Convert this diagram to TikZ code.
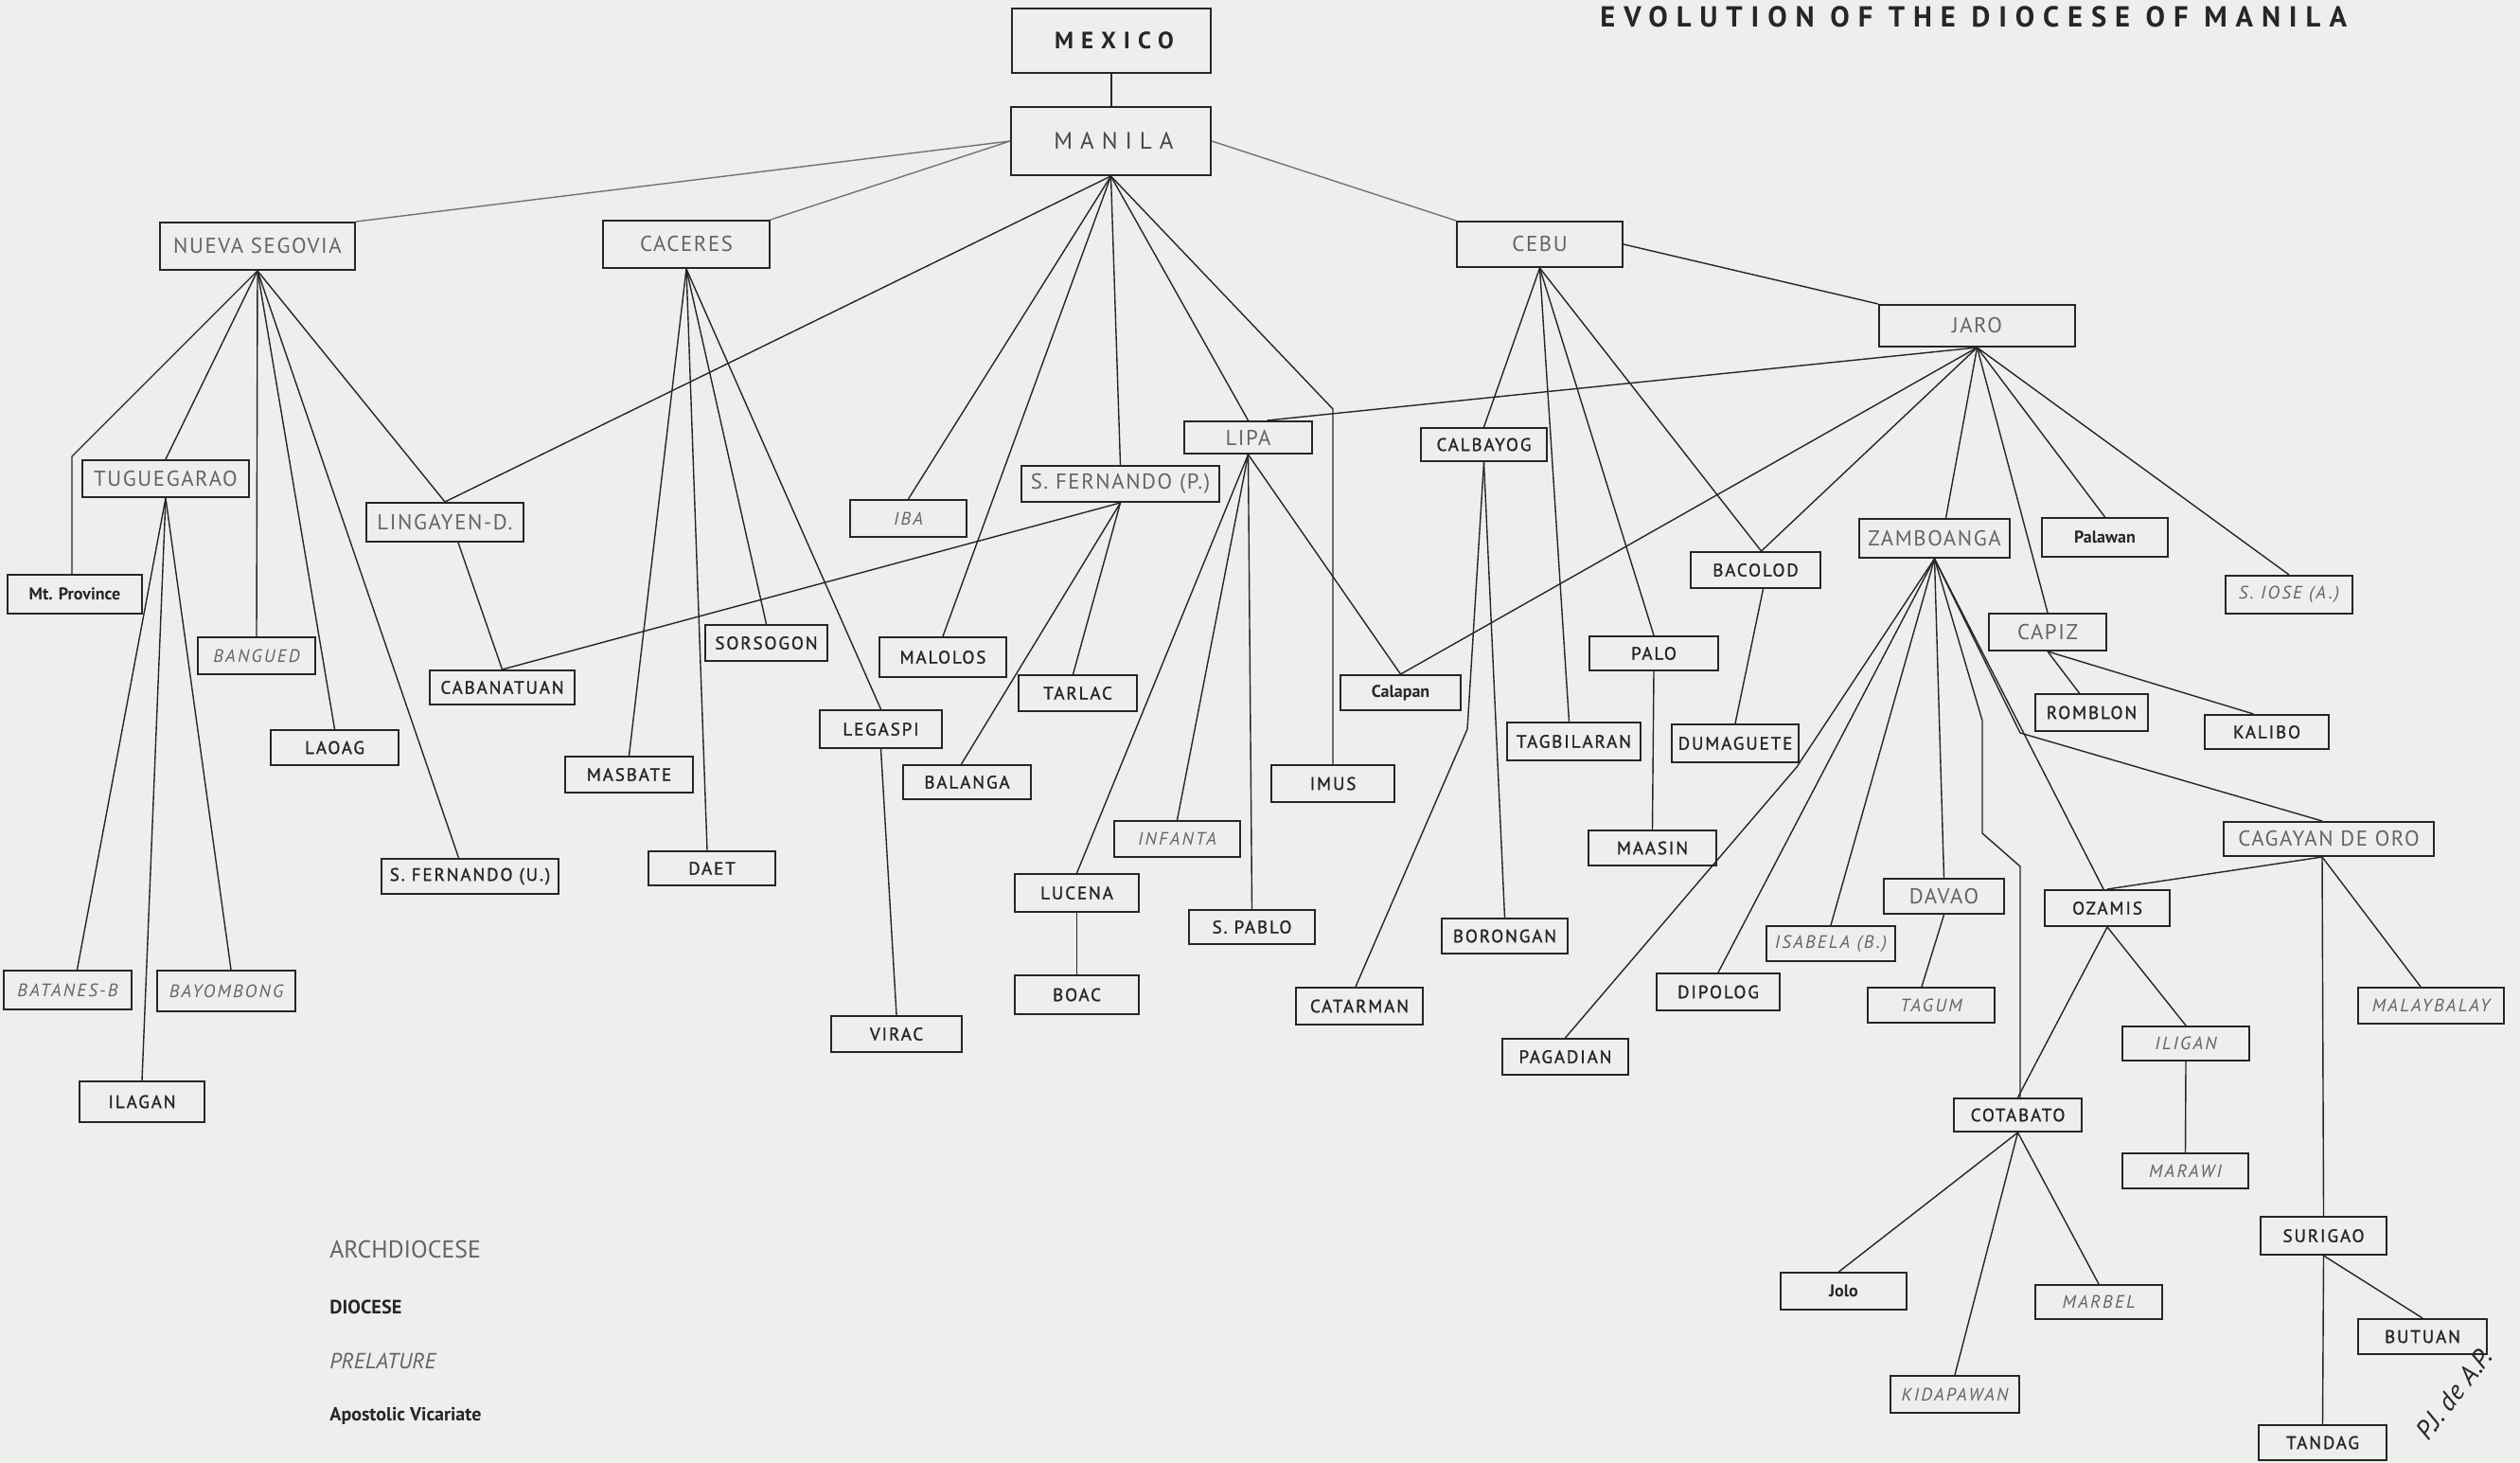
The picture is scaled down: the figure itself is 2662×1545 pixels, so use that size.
\documentclass[tikz,border=0pt]{standalone}
\usepackage{fontspec}
\setmainfont{PT Sans}
\newfontfamily\archF[LetterSpace=7]{PT Sans}
\newfontfamily\dioF[LetterSpace=10,FakeBold=1.2]{PT Sans}
\newfontfamily\prelF[LetterSpace=12]{PT Sans}
\newfontfamily\wideF[LetterSpace=32]{PT Sans}
\newfontfamily\titleF[LetterSpace=29]{PT Sans}
\usetikzlibrary{calc}
\definecolor{paper}{RGB}{238,238,236}
\definecolor{ink}{RGB}{38,38,38}
\definecolor{greyink}{RGB}{100,100,100}
\begin{document}
\begin{tikzpicture}[x=0.5pt,y=-0.5pt,
  bx/.style 2 args={draw=ink,line width=1pt,fill=paper,inner sep=0pt,minimum width=#1*0.5pt,minimum height=#2*0.5pt},
  arch/.style={text=greyink,font=\archF\fontsize{11.4}{12}\selectfont},
  dio/.style={text=ink,font=\dioF\fontsize{9.5}{10}\selectfont},
  prel/.style={text=greyink,font=\prelF\itshape\fontsize{9.5}{10}\selectfont},
  apv/.style={text=ink,font=\bfseries\fontsize{9}{10}\selectfont},
  ln/.style={draw=ink,line width=0.7pt},
  lng/.style={draw=ink!65,line width=0.7pt},
  lgd/.style={anchor=base west,inner sep=0pt}]
\fill[paper] (0,0) rectangle (2662,1545);
\useasboundingbox (0,0) rectangle (2662,1545);

% title
\node[lgd,text=ink,font=\titleF\bfseries\fontsize{15.3}{16}\selectfont] (title) at (1690,29) {EVOLUTION OF THE DIOCESE OF MANILA};

% top
\node[bx={210}{68},text=ink,font=\wideF\bfseries\fontsize{12.5}{13}\selectfont] (mexico) at (1174,43) {\hspace*{3pt}MEXICO};
\node[bx={211}{72},text=ink!85,font=\wideF\fontsize{12.5}{13}\selectfont] (manila) at (1173.5,149) {\hspace*{3pt}MANILA};

% archdioceses
\node[bx={206}{50},arch] (ns) at (272,260) {NUEVA SEGOVIA};
\node[bx={176}{50},arch] (cac) at (725,258) {CACERES};
\node[bx={175}{48},arch] (cebu) at (1626.5,258) {CEBU};
\node[bx={207}{44},arch] (jaro) at (2088.5,344) {JARO};
\node[bx={176}{39},arch] (tug) at (175,505.5) {TUGUEGARAO};
\node[bx={166}{41},arch] (lin) at (470,551.5) {LINGAYEN-D.};
\node[bx={209}{38},arch] (sfp) at (1183.5,511) {S. FERNANDO (P.)};
\node[bx={135}{34},arch] (lipa) at (1318.5,462) {LIPA};
\node[bx={159}{41},arch] (zam) at (2043.5,568.5) {ZAMBOANGA};
\node[bx={124}{39},arch] (cap) at (2163,667.5) {CAPIZ};
\node[bx={222}{36},arch] (cdo) at (2460,886) {CAGAYAN DE ORO};
\node[bx={127}{37},arch] (dav) at (2053.5,946.5) {DAVAO};

% dioceses
\node[bx={135}{37},dio] (laoag) at (353.5,789.5) {LAOAG};
\node[bx={187}{37},dio] (sfu) at (496.5,925.5) {S. FERNANDO (U.)};
\node[bx={153}{36},dio] (cab) at (530.5,726) {CABANATUAN};
\node[bx={132}{43},dio] (ila) at (150,1163.5) {ILAGAN};
\node[bx={135}{38},dio] (mas) at (664.5,818) {MASBATE};
\node[bx={129}{38},dio] (sor) at (809.5,679) {SORSOGON};
\node[bx={134}{36},dio] (daet) at (752,917) {DAET};
\node[bx={129}{40},dio] (leg) at (930.5,770) {LEGASPI};
\node[bx={138}{38},dio] (virac) at (947,1092) {VIRAC};
\node[bx={134}{42},dio] (mal) at (996,694) {MALOLOS};
\node[bx={135}{36},dio] (bal) at (1021.5,826) {BALANGA};
\node[bx={125}{38},dio] (tar) at (1138.5,732) {TARLAC};
\node[bx={131}{40},dio] (luc) at (1137.5,943) {LUCENA};
\node[bx={131}{41},dio] (boac) at (1137.5,1050.5) {BOAC};
\node[bx={133}{36},dio] (spa) at (1322.5,979) {S. PABLO};
\node[bx={130}{39},dio] (imus) at (1408,827.5) {IMUS};
\node[bx={133}{35},dio] (clb) at (1567.5,469.5) {CALBAYOG};
\node[bx={134}{39},dio] (cat) at (1436,1062.5) {CATARMAN};
\node[bx={133}{37},dio] (bor) at (1589.5,988.5) {BORONGAN};
\node[bx={141}{40},dio] (tag) at (1662.5,783) {TAGBILARAN};
\node[bx={136}{36},dio] (palo) at (1747,690) {PALO};
\node[bx={135}{37},dio] (maa) at (1745.5,895.5) {MAASIN};
\node[bx={137}{38},dio] (bac) at (1854.5,602) {BACOLOD};
\node[bx={134}{40},dio] (dum) at (1833,785) {DUMAGUETE};
\node[bx={119}{39},dio] (rom) at (2209.5,752.5) {ROMBLON};
\node[bx={131}{36},dio] (kal) at (2394.5,773) {KALIBO};
\node[bx={132}{38},dio] (oza) at (2226,959) {OZAMIS};
\node[bx={130}{39},dio] (dip) at (1815,1047.5) {DIPOLOG};
\node[bx={133}{38},dio] (pag) at (1653.5,1116) {PAGADIAN};
\node[bx={135}{35},dio] (cot) at (2131.5,1177.5) {COTABATO};
\node[bx={133}{40},dio] (sur) at (2454.5,1305) {SURIGAO};
\node[bx={136}{37},dio] (but) at (2559,1411.5) {BUTUAN};
\node[bx={135}{37},dio] (tan) at (2453.5,1523.5) {TANDAG};

% prelatures
\node[bx={124}{39},prel] (bang) at (271,692.5) {BANGUED};
\node[bx={135}{41},prel] (bat) at (71.5,1045.5) {BATANES-B};
\node[bx={146}{43},prel] (bay) at (239,1046.5) {BAYOMBONG};
\node[bx={123}{39},prel] (iba) at (959.5,547.5) {IBA};
\node[bx={133}{38},prel] (inf) at (1243.5,886) {INFANTA};
\node[bx={134}{40},prel] (sjo) at (2418,628) {S. IOSE (A.)};
\node[bx={136}{37},prel] (isa) at (1934,996.5) {ISABELA (B.)};
\node[bx={134}{37},prel] (tgm) at (2040,1061.5) {TAGUM};
\node[bx={134}{36},prel] (ili) at (2309,1102) {ILIGAN};
\node[bx={133}{37},prel] (mar) at (2308.5,1236.5) {MARAWI};
\node[bx={154}{38},prel] (mly) at (2568,1062) {MALAYBALAY};
\node[bx={134}{36},prel] (mrb) at (2217,1375) {MARBEL};
\node[bx={136}{39},prel] (kid) at (2065,1472.5) {KIDAPAWAN};

% apostolic vicariates
\node[bx={142}{41},apv] (mtp) at (79,627.5) {Mt. Province};
\node[bx={127}{37},apv] (cal) at (1479.5,731.5) {Calapan};
\node[bx={133}{41},apv] (pal) at (2223.5,567.5) {Palawan};
\node[bx={133}{39},apv] (jolo) at (1947.5,1363.5) {Jolo};

% bend points
\coordinate (imusbend) at (1408,432);
\coordinate (mtpbend) at (76,482);
\coordinate (catbend) at (1550,770);
\coordinate (pagbend) at (1898,810);
\coordinate (cotb1) at (2094,761);
\coordinate (cotb2) at (2094,880);
\coordinate (cotb3) at (2134,915);
\coordinate (cdobend) at (2134,774);

% connectors
\draw[ln] (mexico.south) -- (mexico.south |- manila.north);
\draw[lng] (manila.west) -- (ns.north east);
\draw[lng] (manila.west) -- (cac.north east);
\draw[lng] (manila.east) -- (cebu.north west);
\draw[ln] (cebu.east) -- (jaro.north west);

\foreach \t in {lin,iba,mal,sfp,lipa} \draw[ln] (manila.south) -- (\t.north);
\draw[ln] (manila.south) -- (imusbend) -- (imus.north);

\draw[ln] (ns.south) -- (mtpbend) -- (mtpbend |- mtp.north);
\foreach \t in {tug,bang,laoag,lin} \draw[ln] (ns.south) -- (\t.north);
\draw[ln] (ns.south) -- ($(sfu.north)+(-12,0)$);

\draw[ln] (tug.south) -- ($(bat.north)+(10,0)$);
\draw[ln] (tug.south) -- (ila.north);
\draw[ln] (tug.south) -- ($(bay.north)+(5,0)$);

\draw[ln] ($(lin.south)+(14,0)$) -- (cab.north);
\draw[ln] (sfp.south) -- (cab.north);
\draw[ln] (sfp.south) -- ($(bal.north)+(-6,0)$);
\draw[ln] (sfp.south) -- ($(tar.north)+(-5,0)$);

\foreach \t in {mas,sor,leg} \draw[ln] (cac.south) -- (\t.north);
\draw[ln] (cac.south) -- ($(daet.north)+(-5,0)$);
\draw[ln] (leg.south) -- (virac.north);

\foreach \t in {luc,inf,spa,cal} \draw[ln] (lipa.south) -- (\t.north);
\draw[ln] (luc.south) -- (boac.north);

\foreach \t in {clb,palo} \draw[ln] (cebu.south) -- (\t.north);
\draw[ln] (cebu.south) -- ($(tag.north)+(-5,0)$);
\draw[ln] (cebu.south) -- ($(bac.north)+(6,0)$);
\draw[ln] (clb.south) -- (catbend) -- ($(cat.north)+(-4,0)$);
\draw[ln] (clb.south) -- (bor.north);
\draw[ln] (palo.south) -- (maa.north);
\draw[ln] ($(bac.south)+(8,0)$) -- (dum.north);

\draw[ln] (jaro.south) -- ($(lipa.north)+(20,0)$);
\foreach \t in {cal,cap,pal,sjo} \draw[ln] (jaro.south) -- (\t.north);
\draw[ln] (jaro.south) -- ($(bac.north)+(6,0)$);
\draw[ln] (jaro.south) -- ($(zam.north)+(12,0)$);
\draw[ln] (cap.south) -- ($(rom.north)+(-13,0)$);
\draw[ln] (cap.south) -- ($(kal.north)+(-14,0)$);

\draw[ln] (zam.south) -- (pagbend) -- (pag.north);
\foreach \t in {dip,isa,dav} \draw[ln] (zam.south) -- (\t.north);
\draw[ln] (zam.south) -- ($(oza.north)+(-4,0)$);
\draw[ln] (zam.south) -- (cotb1) -- (cotb2) -- (cotb3) -- (cotb3 |- cot.north);
\draw[ln] (zam.south) -- (cdobend) -- ($(cdo.north)+(-7,0)$);

\draw[ln] ($(cdo.south)+(-7,0)$) -- (oza.north);
\draw[ln] ($(cdo.south)+(-7,0)$) -- (sur.north);
\draw[ln] ($(cdo.south)+(-7,0)$) -- ($(mly.north)+(-11,0)$);
\draw[ln] (dav.south) -- ($(tgm.north)+(-10,0)$);
\draw[ln] (oza.south) -- (cot.north);
\draw[ln] (oza.south) -- (ili.north);
\draw[ln] (ili.south) -- (mar.north);
\draw[ln] (cot.south) -- ($(jolo.north)+(-5,0)$);
\draw[ln] (cot.south) -- (kid.north);
\draw[ln] (cot.south) -- (mrb.north);
\draw[ln] (sur.south) -- (but.north);
\draw[ln] (sur.south) -- (tan.north);

% legend
\node[lgd,text=greyink,font=\fontsize{12.9}{13}\selectfont] (lgA) at (348,1328) {ARCHDIOCESE};
\node[lgd,text=ink,font=\bfseries\fontsize{10.2}{11}\selectfont] (lgD) at (348,1387) {DIOCESE};
\node[lgd,text=greyink,font=\itshape\fontsize{11.6}{12}\selectfont] (lgP) at (348,1445) {PRELATURE};
\node[lgd,text=ink,font=\bfseries\fontsize{10}{11}\selectfont] (lgV) at (348,1500) {Apostolic Vicariate};

% signature
\node[rotate=52,inner sep=0pt,text=ink,font=\itshape\fontsize{14}{14}\selectfont] (sig) at (2592,1472) {P.J. de A.P.};
\end{tikzpicture}
\end{document}
